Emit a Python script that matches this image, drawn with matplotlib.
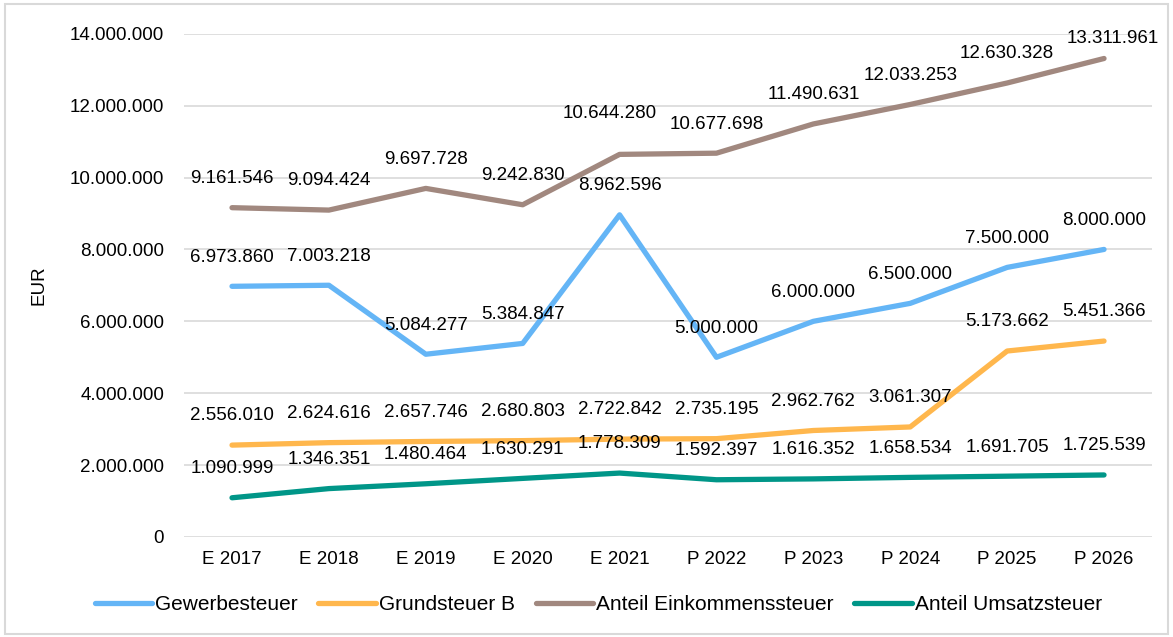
import numpy as np
import matplotlib.pyplot as plt
from matplotlib.patches import Rectangle

# -----------------------------
# Data
# -----------------------------
jahre = ["E 2017", "E 2018", "E 2019", "E 2020", "E 2021",
         "P 2022", "P 2023", "P 2024", "P 2025", "P 2026"]

gewerbesteuer = [6973860, 7003218, 5084277, 5384847, 8962596,
                 5000000, 6000000, 6500000, 7500000, 8000000]
grundsteuer_b = [2556010, 2624616, 2657746, 2680803, 2722842,
                 2735195, 2962762, 3061307, 5173662, 5451366]
einkommensteuer = [9161546, 9094424, 9697728, 9242830, 10644280,
                   10677698, 11490631, 12033253, 12630328, 13311961]
umsatzsteuer = [1090999, 1346351, 1480464, 1630291, 1778309,
                1592397, 1616352, 1658534, 1691705, 1725539]

y_ticks = [0, 2000000, 4000000, 6000000, 8000000, 10000000, 12000000, 14000000]


def de_fmt(v):
    return f"{v:,}".replace(",", ".")


plt.rcParams['font.family'] = ['Liberation Sans', 'DejaVu Sans']

fig = plt.figure(figsize=(11.73, 6.37), dpi=100)
ax = fig.add_axes([0.1565, 0.157, 0.826, 0.79])

# figure border
fig.patches.append(Rectangle((0.004, 0.005), 0.992, 0.989, transform=fig.transFigure,
                             fill=False, edgecolor="#D9D9D9", linewidth=1.5))

x = np.arange(len(jahre))
series = [
    ("Gewerbesteuer", gewerbesteuer, "#64B5F6"),
    ("Grundsteuer B", grundsteuer_b, "#FFB74D"),
    ("Anteil Einkommenssteuer", einkommensteuer, "#A1887F"),
    ("Anteil Umsatzsteuer", umsatzsteuer, "#009688"),
]

# labels that Excel nudged to avoid collisions / the edge (series, index) -> offset pt
nudge = {(2, 4): (-7, 29.5), (2, 9): (6.5, 14.5)}

for si, (name, vals, col) in enumerate(series):
    ax.plot(x, vals, color=col, linewidth=3.8, solid_capstyle="round",
            solid_joinstyle="round", label=name, zorder=3)
    for xi, v in zip(x, vals):
        off = nudge.get((si, xi), (0, 21))
        ax.annotate(de_fmt(v), (xi, v), xytext=off, textcoords="offset points",
                    ha="center", va="center", fontsize=13.5, color="#000000", zorder=4)

ax.set_xlim(-0.5, len(jahre) - 0.5)
ax.set_ylim(0, 14000000)
ax.set_yticks(y_ticks)
ax.set_yticklabels([de_fmt(v) for v in y_ticks], fontsize=13.5)
ax.set_xticks(x)
ax.set_xticklabels(jahre, fontsize=13.5)
ax.tick_params(length=0, pad=10)
ax.tick_params(axis="y", pad=14)
ax.grid(axis="y", color="#D9D9D9", linewidth=1.2, zorder=0)
ax.set_axisbelow(True)
for s in ax.spines.values():
    s.set_visible(False)
ax.set_ylabel("EUR", fontsize=13.5)
ax.yaxis.set_label_coords(-0.14, 0.5)

ax.legend(loc="center", bbox_to_anchor=(0.428, -0.135), ncol=4, frameon=False,
          fontsize=15, handlelength=2.75, handletextpad=0.15, columnspacing=1.0)

fig.savefig("out.png", dpi=100)
